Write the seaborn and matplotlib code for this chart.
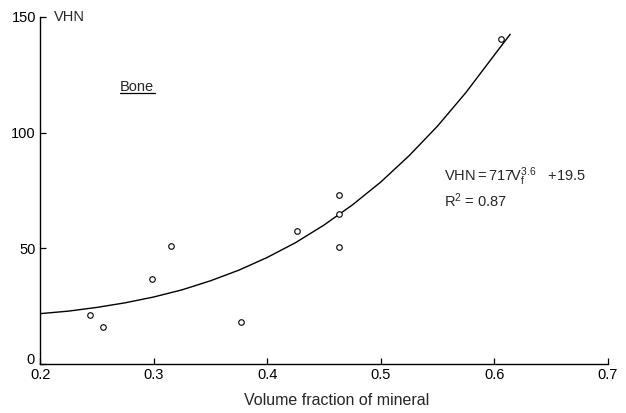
import numpy as np
import pandas as pd
import matplotlib
matplotlib.use('Agg')
import matplotlib.pyplot as plt
import matplotlib.transforms as mtransforms
import seaborn as sns
from matplotlib.lines import Line2D

# measured points (bone)
vol_frac = [0.244, 0.255, 0.299, 0.3155, 0.377, 0.426, 0.4635, 0.4635, 0.4635, 0.6055]
vhn = [21.2, 16.0, 36.7, 51.0, 17.9, 57.4, 50.4, 64.7, 73.2, 140.5]

# fitted curve
curve_x = [0.2, 0.225, 0.25, 0.275, 0.3, 0.325, 0.35, 0.375, 0.4, 0.425, 0.45,
           0.475, 0.5, 0.525, 0.55, 0.575, 0.6, 0.614]
curve_y = [21.7, 22.8, 24.4, 26.4, 28.9, 32.0, 35.9, 40.5, 46.0, 52.4, 60.0,
           68.7, 78.6, 90.0, 102.8, 117.3, 133.5, 142.5]

x_ticks = [0.2, 0.3, 0.4, 0.5, 0.6, 0.7]
y_ticks = [0, 50, 100, 150]

pts = pd.DataFrame({'x': vol_frac, 'y': vhn})
fit = pd.DataFrame({'x': curve_x, 'y': curve_y})

sns.set_style('ticks')
plt.rcParams['font.family'] = ['Liberation Sans', 'DejaVu Sans']
plt.rcParams['mathtext.default'] = 'regular'

fig = plt.figure(figsize=(6.26, 4.13), dpi=100)
ax = fig.add_axes([0.064, 0.119, 0.907, 0.840])

sns.lineplot(data=fit, x='x', y='y', color='black', linewidth=1.0, ax=ax, sort=False)
sns.scatterplot(data=pts, x='x', y='y', marker='o', s=16, facecolor='white',
                edgecolor='black', linewidth=0.8, ax=ax, zorder=3)

ax.set_xlim(0.2, 0.7)
ax.set_ylim(0, 150)
ax.set_xticks(x_ticks)
ax.set_xticklabels([str(t) for t in x_ticks])
ax.set_yticks(y_ticks)
ax.tick_params(direction='in', length=4, width=0.9, labelsize=10.5, colors='black', pad=3)
ax.set_xlabel('Volume fraction of mineral', fontsize=11.5)
ax.xaxis.set_label_coords(0.522, -0.085)
ax.set_ylabel('')
sns.despine(ax=ax)
for s in ['left', 'bottom']:
    ax.spines[s].set_linewidth(1.0)
    ax.spines[s].set_color('black')

# lift the "0" label a little so it clears "0.2"
zero_lbl = ax.get_yticklabels()[0]
zero_lbl.set_transform(zero_lbl.get_transform() +
                       mtransforms.ScaledTranslation(-1 / 72, 4 / 72, fig.dpi_scale_trans))

ax.text(0.2125, 150, 'VHN', fontsize=10.5, va='center', ha='left')
bone = ax.text(0.270, 119.8, 'Bone', fontsize=10.5, va='center', ha='left')
ax.text(0.556, 80.8, r'VHN$\,$=$\,$717V$_f^{3.6}$   +19.5', fontsize=10.5, va='center', ha='left')
ax.text(0.556, 70.5, r'R$^2$ = 0.87', fontsize=10.5, va='center', ha='left')

# underline "Bone"
fig.canvas.draw()
bb = bone.get_window_extent(fig.canvas.get_renderer())
inv = fig.transFigure.inverted()
(x0, y0), (x1, _) = inv.transform([(bb.x0, bb.y0 + 1), (bb.x1 + 1, bb.y0)])
fig.add_artist(Line2D([x0, x1], [y0, y0], color='black', linewidth=0.9, transform=fig.transFigure))

fig.savefig('out.png', dpi=100)
